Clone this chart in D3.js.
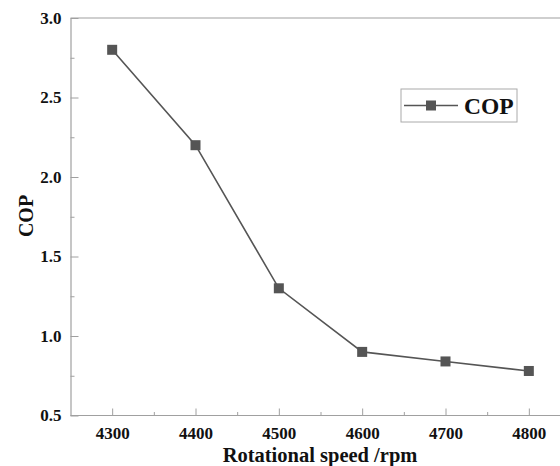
<!DOCTYPE html>
<html>
<head>
<meta charset="utf-8">
<script src="https://cdn.jsdelivr.net/npm/d3@7"></script>
<style>
  body { margin: 0; background: #fff; }
  svg { display: block; }
  text { font-family: "Liberation Serif", "Times New Roman", serif; font-weight: bold; fill: #111; }
</style>
</head>
<body>
<div id="chart"></div>
<script>
var speeds = [4300, 4400, 4500, 4600, 4700, 4800];
var cop = [2.8, 2.2, 1.3, 0.9, 0.84, 0.78];
var xTicks = [4300, 4400, 4500, 4600, 4700, 4800];
var yTicks = [0.5, 1.0, 1.5, 2.0, 2.5, 3.0];

var width = 560, height = 466;
var margin = { left: 70.5, top: 18, bottom: 415.5 };
var axisColor = "#a0a0a0", lineColor = "#555";

var svg = d3.select("#chart").append("svg")
  .attr("width", width)
  .attr("height", height);

var x = d3.scaleLinear().domain([4250, 4850]).range([margin.left, margin.left + 500]);
var y = d3.scaleLinear().domain([0.5, 3.0]).range([margin.bottom, margin.top]);

// frame (top + left + bottom), right side falls off the page
svg.append("line").attr("x1", margin.left).attr("x2", width).attr("y1", margin.top).attr("y2", margin.top)
  .attr("stroke", axisColor).attr("stroke-width", 1.2);

var xAxis = d3.axisBottom(x).tickValues(xTicks).tickSize(-7).tickFormat(d3.format("d")).tickSizeOuter(0);
var gx = svg.append("g").attr("transform", "translate(0," + margin.bottom + ")").call(xAxis);
gx.attr("font-size", null).attr("font-family", null);
gx.select(".domain").attr("stroke", axisColor).attr("stroke-width", 1.2).attr("d", "M" + margin.left + ",0H" + width);
gx.selectAll(".tick line").attr("stroke", axisColor);
gx.selectAll(".tick text").attr("y", 11).attr("dy", "0.71em").style("font-size", "17px").attr("fill", "#111");

var gxm = svg.append("g").attr("transform", "translate(0," + margin.bottom + ")")
  .call(d3.axisBottom(x).tickValues(xTicks.map(function(d) { return d + 50; })).tickSize(-3.5).tickFormat(""));
gxm.select(".domain").remove();
gxm.selectAll(".tick line").attr("stroke", axisColor);

var yAxis = d3.axisLeft(y).tickValues(yTicks).tickSize(-8).tickFormat(d3.format(".1f")).tickSizeOuter(0);
var gy = svg.append("g").attr("transform", "translate(" + margin.left + ",0)").call(yAxis);
gy.attr("font-size", null).attr("font-family", null);
gy.select(".domain").attr("stroke", axisColor).attr("stroke-width", 1.2);
gy.selectAll(".tick line").attr("stroke", axisColor);
gy.selectAll(".tick text").attr("x", -9).style("font-size", "17px").attr("fill", "#111");

var gym = svg.append("g").attr("transform", "translate(" + margin.left + ",0)")
  .call(d3.axisLeft(y).tickValues(yTicks.slice(0, -1).map(function(d) { return d + 0.25; })).tickSize(-4).tickFormat(""));
gym.select(".domain").remove();
gym.selectAll(".tick line").attr("stroke", axisColor);

// axis titles
svg.append("text").attr("x", 320).attr("y", 461.5).attr("text-anchor", "middle")
  .style("font-size", "20.5px").text("Rotational speed /rpm");
svg.append("text").attr("transform", "translate(33,216) rotate(-90)").attr("text-anchor", "middle")
  .style("font-size", "20px").text("COP");

// series
var data = speeds.map(function(s, i) { return { x: s, y: cop[i] }; });
svg.append("path").datum(data)
  .attr("fill", "none").attr("stroke", lineColor).attr("stroke-width", 1.6)
  .attr("d", d3.line().x(function(d) { return x(d.x); }).y(function(d) { return y(d.y); }));

var ms = 10;
svg.selectAll("rect.pt").data(data).enter().append("rect")
  .attr("class", "pt")
  .attr("x", function(d) { return x(d.x) - ms / 2; })
  .attr("y", function(d) { return y(d.y) - ms / 2; })
  .attr("width", ms).attr("height", ms)
  .attr("fill", lineColor);

// legend
var lg = svg.append("g").attr("transform", "translate(401,89)");
lg.append("rect").attr("width", 116).attr("height", 33).attr("fill", "#fff")
  .attr("stroke", "#aaa").attr("stroke-width", 1);
lg.append("line").attr("x1", 3).attr("x2", 57).attr("y1", 16.5).attr("y2", 16.5)
  .attr("stroke", lineColor).attr("stroke-width", 1.6);
lg.append("rect").attr("x", 30 - ms / 2).attr("y", 16.5 - ms / 2).attr("width", ms).attr("height", ms).attr("fill", lineColor);
lg.append("text").attr("x", 63).attr("y", 25).style("font-size", "23.5px").text("COP");
</script>
</body>
</html>
